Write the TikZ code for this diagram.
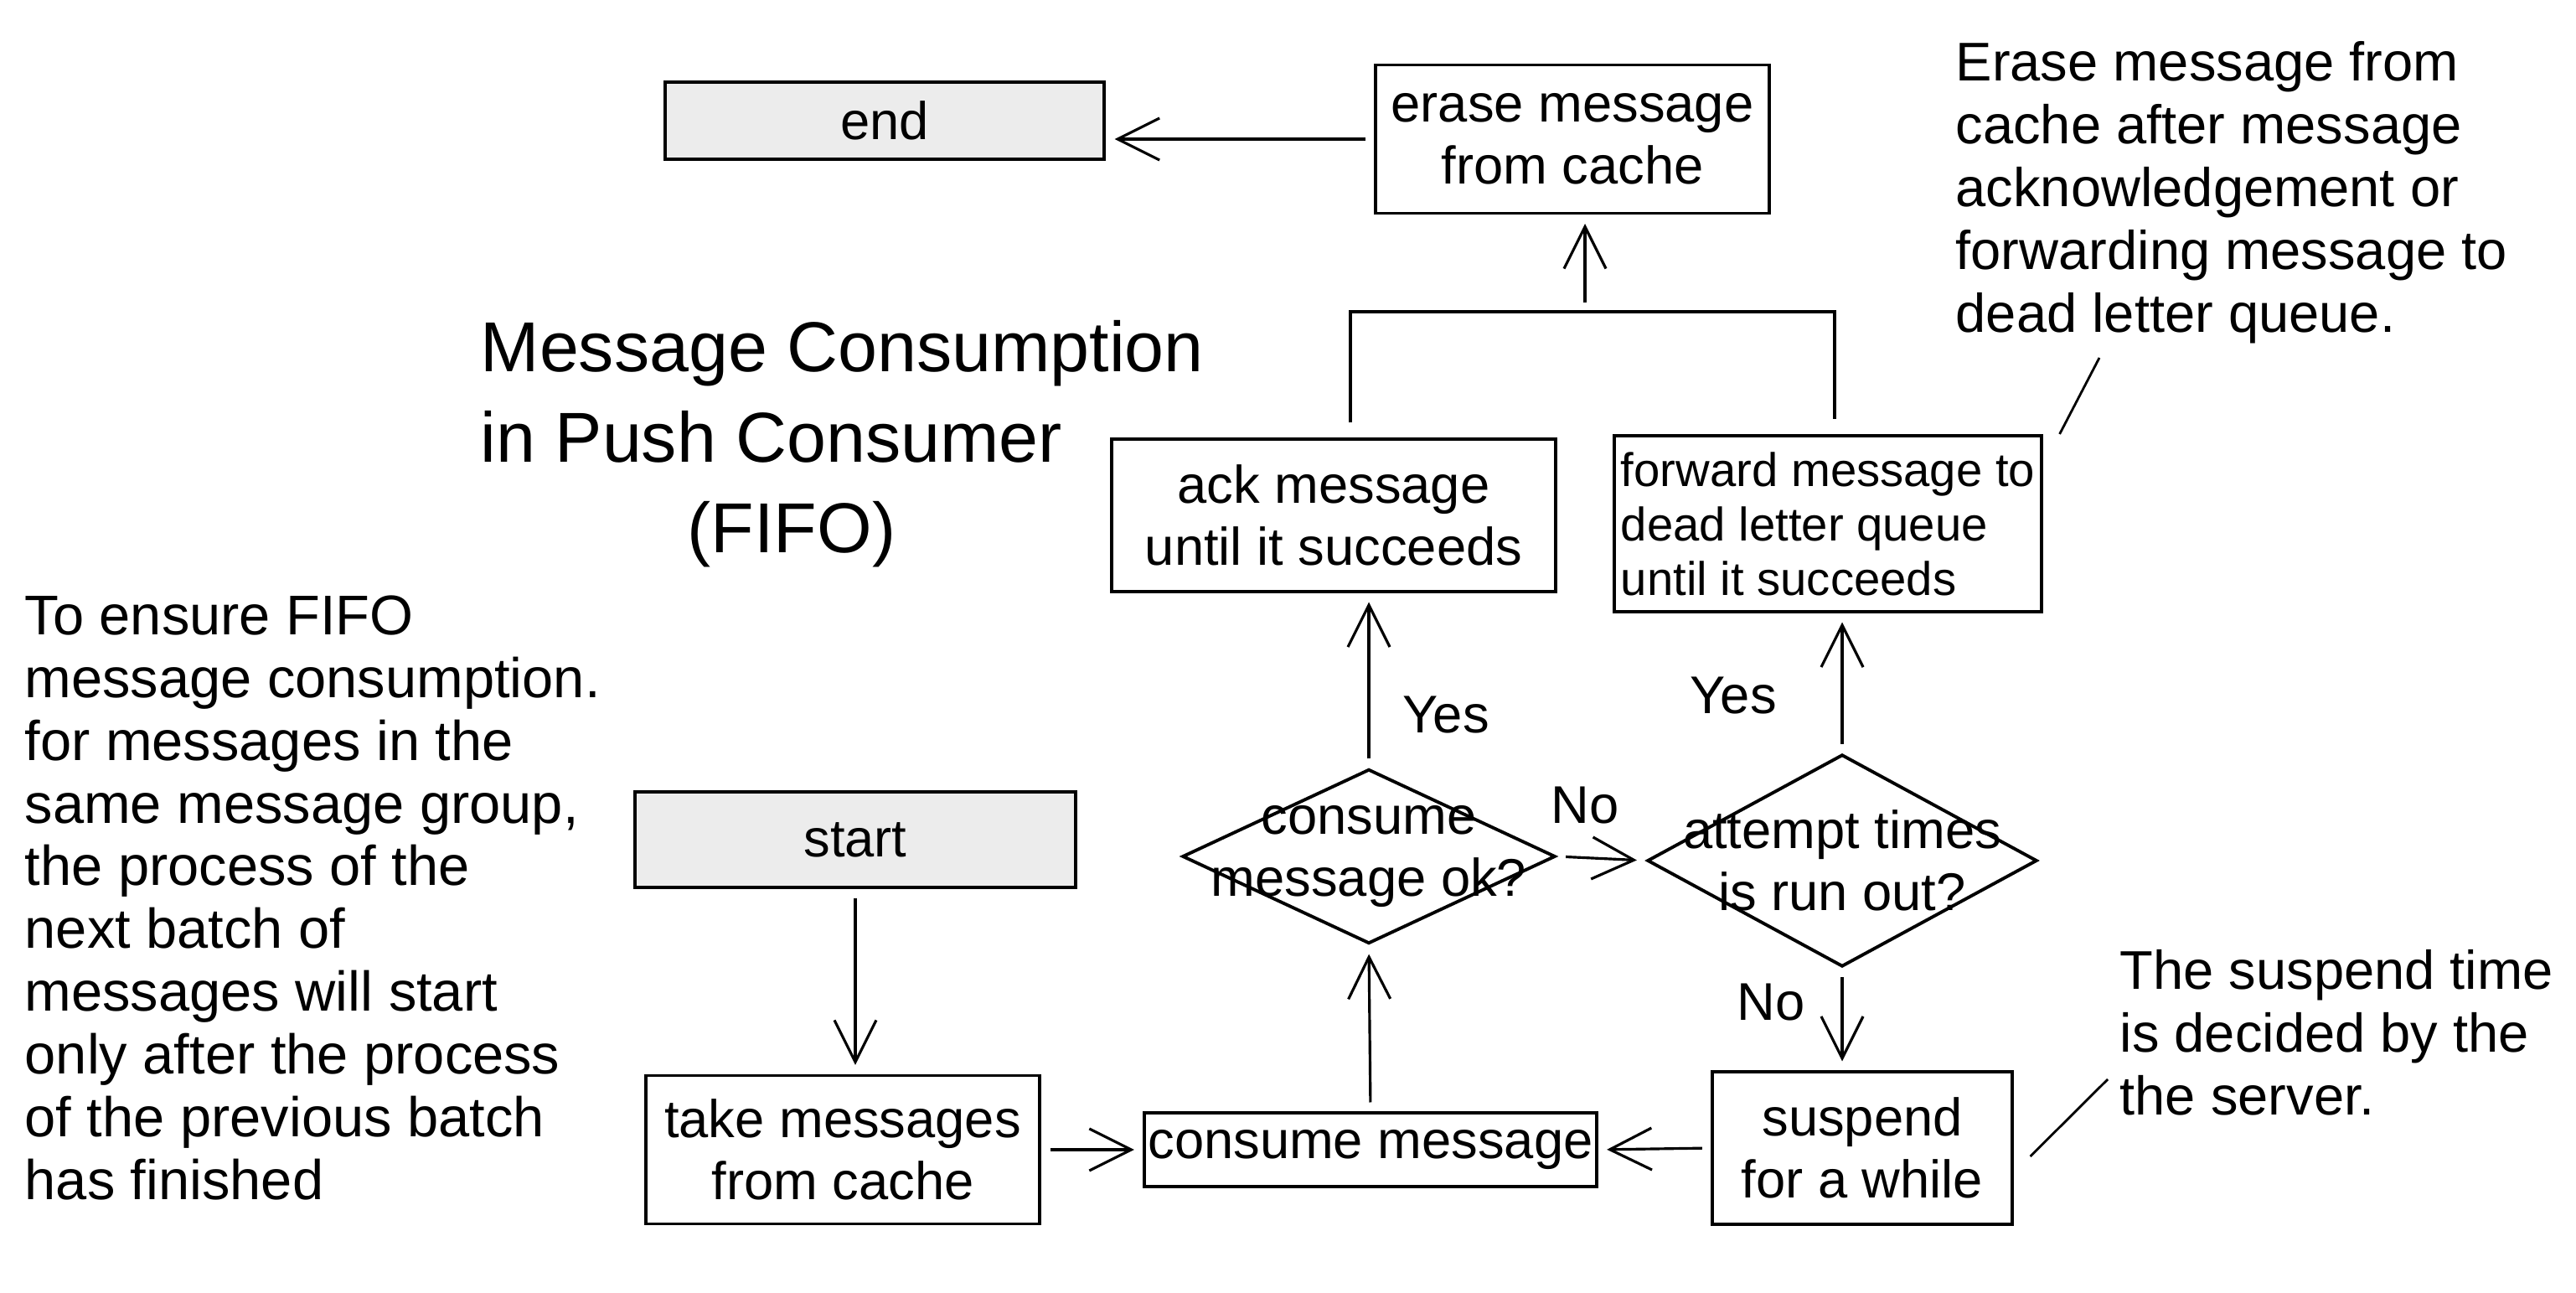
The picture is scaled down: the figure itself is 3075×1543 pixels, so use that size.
\documentclass[tikz,border=0pt]{standalone}
\usepackage{fontspec}
\setmainfont{Liberation Sans}
\usetikzlibrary{shapes.geometric,arrows.meta}
\definecolor{termgray}{HTML}{ECECEC}
\begin{document}
\begin{tikzpicture}[x=0.01cm, y=-0.01cm]
\tikzstyle{box}=[draw, line width=1.1pt, align=center, inner sep=1pt, font=\fontsize{18}{21}\selectfont]
\tikzstyle{term}=[box, fill=termgray]
\tikzstyle{cond}=[draw, diamond, line width=1.1pt, inner sep=0pt]
\tikzstyle{lbl}=[align=center, font=\fontsize{18}{21}\selectfont]
\tikzstyle{note}=[align=left, anchor=north west, inner sep=0pt, font=\fontsize{18.5}{21.3}\selectfont]
\tikzstyle{arr}=[-{Straight Barb[length=0.5cm, width=0.5cm]}, line width=0.9pt, shorten >=3pt, shorten <=3pt]
\useasboundingbox (0,0) rectangle (3075,1543);
\node[term, minimum width=5.24cm, minimum height=0.92cm] (end) at (1056,144) {end};
\node[box, minimum width=4.69cm, minimum height=1.77cm] (erase) at (1877,166) {erase message\\from cache};
\node[box, minimum width=5.29cm, minimum height=1.82cm] (ack) at (1592,615) {ack message\\until it succeeds};
\node[box, minimum width=5.09cm, minimum height=2.10cm, align=left, font=\fontsize{16}{18.5}\selectfont] (fwd) at (2182,625) {forward message to\\dead letter queue\\until it succeeds};
\node[term, minimum width=5.25cm, minimum height=1.14cm] (start) at (1021,1002) {start};
\node[box, minimum width=4.70cm, minimum height=1.77cm] (take) at (1006,1372) {take messages\\from cache};
\node[box, minimum width=5.39cm, minimum height=0.88cm] (consume) at (1636,1372) {consume message};
\node[box, minimum width=3.57cm, minimum height=1.82cm] (susp) at (2223,1370) {suspend\\for a while};
\node[cond, minimum width=4.45cm, minimum height=2.08cm] (ok) at (1634,1022) {};
\node[lbl] (okt) at (ok.center) {consume\\message ok?};
\node[cond, minimum width=4.65cm, minimum height=2.53cm] (tries) at (2199,1027) {};
\node[lbl] (triest) at (tries.center) {attempt times\\is run out?};
\node[lbl] (no1) at (1892,961) {No};
\node[lbl] (yes1) at (1726,853) {Yes};
\node[lbl] (yes2) at (2069,830) {Yes};
\node[lbl] (no2) at (2114,1196) {No};
\node[note, font=\fontsize{24}{30.7}\selectfont] (title) at (573,382) {Message Consumption\\in Push Consumer\\\hspace*{2.47cm}(FIFO)};
\node[note] (noteA) at (2334,49) {Erase message from\\cache after message\\acknowledgement or\\forwarding message to\\dead letter queue.};
\node[note, font=\fontsize{19}{21.3}\selectfont] (fifo) at (29,710) {To ensure FIFO\\message consumption.\\for messages in the\\same message group,\\the process of the\\next batch of\\messages will start\\only after the process\\of the previous batch\\has finished};
\node[note] (noteB) at (2530,1133) {The suspend time\\is decided by the\\the server.};
\coordinate (join) at (1892,372);
\coordinate (tipA) at (2506,427);
\coordinate (tipB) at (2516,1288);
\draw[arr] (erase.west) -- (erase.west -| end.east);
\draw[line width=0.9pt, shorten <=5pt, shorten >=5pt] ([xshift=0.2cm]ack.north) |- (join) -| ([xshift=0.08cm]fwd.north);
\draw[arr] (join) -- (join |- erase.south);
\draw[arr] (start.south) -- (start.south |- take.north);
\draw[arr] (take.east) -- (consume.west);
\draw[arr] (consume.north) -- (ok.south);
\draw[arr] (ok.north) -- (ok.north |- ack.south);
\draw[arr] (ok.east) -- (tries.west);
\draw[arr] (tries.north) -- (tries.north |- fwd.south);
\draw[arr] (tries.south) -- (tries.south |- susp.north);
\draw[arr] (susp.west) -- (consume.east);
\draw[line width=0.8pt] ([xshift=0.2cm]fwd.north east) -- (tipA);
\draw[line width=0.8pt] ([xshift=0.2cm, yshift=-0.1cm]susp.east) -- (tipB);
\end{tikzpicture}
\end{document}
